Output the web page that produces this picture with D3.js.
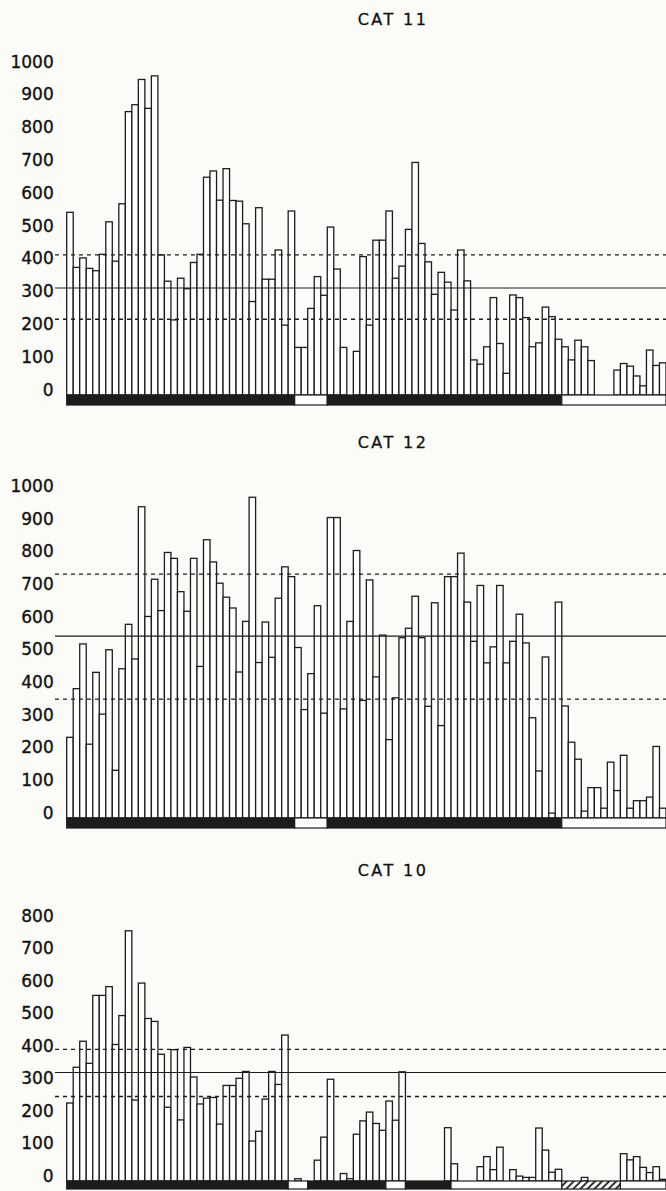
<!DOCTYPE html>
<html>
<head>
<meta charset="utf-8">
<script src="https://cdn.jsdelivr.net/npm/d3@7"></script>
<style>
  html, body { margin: 0; padding: 0; background: #fbfbf8; }
  svg { display: block; font-family: "DejaVu Sans", sans-serif; }
</style>
</head>
<body>
<svg id="chart" width="666" height="1191"></svg>
<script>
// daily counts, one bar per day (0 = no bar)
const cat11 = [557,389,418,386,379,429,528,408,583,864,
  885,962,874,973,427,347,229,356,324,404,
  429,664,683,594,690,593,591,522,285,571,
  353,353,442,213,561,145,145,264,361,304,
  512,384,145,0,133,422,213,472,472,561,
  356,393,505,709,462,406,307,374,344,259,
  442,348,107,94,147,297,157,66,305,297,
  236,147,159,268,239,170,147,107,167,147,
  105,0,0,0,76,96,88,58,28,137,
  90,98];
const cat12 = [247,396,533,226,446,318,515,146,457,593,
  487,953,617,731,635,813,795,693,633,795,
  464,852,784,719,676,643,447,602,982,476,
  600,492,673,769,739,522,332,442,650,321,
  920,920,334,602,819,360,729,432,560,240,
  368,552,581,679,552,342,659,283,739,739,
  811,661,541,712,475,524,712,475,541,624,
  536,307,144,493,15,661,343,232,180,21,
  93,93,30,171,84,192,30,53,53,64,
  219,30];
const cat10 = [240,350,430,362,571,571,598,420,509,770,
  249,609,500,491,390,227,404,188,411,320,
  237,255,257,175,294,294,316,337,123,153,
  252,337,297,449,0,7,0,0,64,135,
  313,0,23,7,144,185,212,177,156,246,
  187,336,0,0,0,0,0,0,164,53,
  0,0,0,44,75,35,104,0,35,15,
  11,11,163,95,27,36,0,0,0,11,
  0,0,0,0,0,84,65,75,42,26,
  44,5];

const ticks1000 = [0,100,200,300,400,500,600,700,800,900,1000];
const ticks800 = [0,100,200,300,400,500,600,700,800];

// mean, upper, lower reference levels
const cat11Lines = [326, 427, 231];
const cat12Lines = [557, 747, 364];
const cat10Lines = [334, 405, 260];

// period strip under the bars: [kind, number of days]
const cat11Periods = [["dark",35],["light",5],["dark",36],["light",16]];
const cat12Periods = [["dark",35],["light",5],["dark",36],["light",16]];
const cat10Periods = [["dark",34],["light",3],["dark",12],["light",3],["dark",7],["light",17],["hatch",9],["light",7]];

const panels = [
  {title: "CAT 11", values: cat11, ticks: ticks1000, lines: cat11Lines, periods: cat11Periods,
   base: 395, top: 67, max: 1000, titleY: 25, strip: 10},
  {title: "CAT 12", values: cat12, ticks: ticks1000, lines: cat12Lines, periods: cat12Periods,
   base: 818, top: 491.4, max: 1000, titleY: 448, strip: 10},
  {title: "CAT 10", values: cat10, ticks: ticks800, lines: cat10Lines, periods: cat10Periods,
   base: 1181, top: 921, max: 800, titleY: 876, strip: 8}
];

const ink = "#1c1c1c";
const svg = d3.select("#chart");

const defs = svg.append("defs");
const pat = defs.append("pattern")
  .attr("id", "hatch")
  .attr("patternUnits", "userSpaceOnUse")
  .attr("width", 5).attr("height", 5)
  .attr("patternTransform", "rotate(45)");
pat.append("rect").attr("width", 5).attr("height", 5).attr("fill", "#fff");
pat.append("line").attr("x1", 1).attr("y1", 0).attr("x2", 1).attr("y2", 5)
  .attr("stroke", ink).attr("stroke-width", 1.8);

const left = 66.7, right = 666;

panels.forEach(p => {
  const days = p.values.map((_, i) => i);
  const x = d3.scaleBand().domain(days).range([left, right]).padding(0);
  const y = d3.scaleLinear().domain([0, p.max]).range([p.base, p.top]);
  const g = svg.append("g");

  g.append("text")
    .attr("x", 393).attr("y", p.titleY)
    .attr("text-anchor", "middle")
    .attr("font-size", 16)
    .attr("letter-spacing", 2.4)
    .attr("fill", "#111")
    .attr("stroke", "#111").attr("stroke-width", 0.3)
    .text(p.title);

  const axis = g.append("g")
    .attr("transform", `translate(${left},0)`)
    .call(d3.axisLeft(y).tickValues(p.ticks).tickFormat(d3.format("d"))
      .tickSize(0).tickPadding(13));
  axis.select(".domain").remove();
  axis.selectAll("text")
    .attr("dy", "0")
    .attr("font-size", 17)
    .attr("font-family", "DejaVu Sans, sans-serif")
    .attr("fill", "#111")
    .attr("stroke", "#111").attr("stroke-width", 0.35);

  // bars
  g.append("g").selectAll("rect")
    .data(p.values.map((v, i) => ({i, v})).filter(d => d.v > 0))
    .join("rect")
    .attr("x", d => x(d.i))
    .attr("y", d => y(d.v))
    .attr("width", x.bandwidth())
    .attr("height", d => y(0) - y(d.v))
    .attr("fill", "#fff")
    .attr("stroke", ink)
    .attr("stroke-width", 1.3);

  // reference lines
  p.lines.forEach((v, k) => {
    g.append("line")
      .attr("x1", 55).attr("x2", right)
      .attr("y1", y(v)).attr("y2", y(v))
      .attr("stroke", ink)
      .attr("stroke-width", k === 0 ? 1.1 : 1.3)
      .attr("stroke-dasharray", k === 0 ? null : "4,4");
  });

  // period strip
  let start = 0;
  const runs = p.periods.map(([kind, n]) => {
    const r = {kind, from: start, to: start + n - 1};
    start += n;
    return r;
  });
  g.append("g").selectAll("rect")
    .data(runs)
    .join("rect")
    .attr("x", d => x(d.from))
    .attr("y", y(0))
    .attr("width", d => x(d.to) + x.bandwidth() - x(d.from))
    .attr("height", p.strip)
    .attr("fill", d => d.kind === "dark" ? ink : d.kind === "hatch" ? "url(#hatch)" : "#fff")
    .attr("stroke", ink)
    .attr("stroke-width", 1.2);
});
</script>
</body>
</html>
